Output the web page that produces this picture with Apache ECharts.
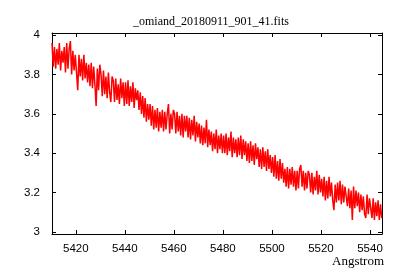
<!DOCTYPE html>
<html>
<head>
<meta charset="utf-8">
<script src="https://cdn.jsdelivr.net/npm/echarts@6/dist/echarts.min.js"></script>
<style>html,body{margin:0;padding:0;background:#fff}#c{width:400px;height:280px}</style>
</head>
<body>
<div id="c"></div>
<script>
const chartTitle = "_omiand_20180911_901_41.fits";
const xAxisName = "Angstrom";
const xStart = 5410.3;
const xStep = 0.5;
const xMin = 5410.3, xMax = 5544.9;
const yMin = 2.989, yMax = 4.011;
const xTicks = [5420, 5440, 5460, 5480, 5500, 5520, 5540];
const yTicks = [3, 3.2, 3.4, 3.6, 3.8, 4];
const flux = [
  3.96, 3.84, 3.94, 3.83, 3.93, 3.85, 3.96, 3.82, 3.92, 3.86,
  3.94, 3.81, 3.96, 3.83, 3.93, 3.97, 3.80, 3.92, 3.82, 3.90,
  3.89, 3.72, 3.90, 3.79, 3.88, 3.77, 3.90, 3.78, 3.86, 3.76,
  3.85, 3.74, 3.86, 3.73, 3.84, 3.75, 3.64, 3.83, 3.72, 3.85,
  3.80, 3.69, 3.82, 3.70, 3.79, 3.68, 3.81, 3.71, 3.66, 3.79,
  3.77, 3.66, 3.78, 3.67, 3.75, 3.65, 3.78, 3.68, 3.76, 3.64,
  3.76, 3.65, 3.77, 3.64, 3.74, 3.66, 3.76, 3.63, 3.73, 3.67,
  3.72, 3.62, 3.71, 3.60, 3.69, 3.58, 3.68, 3.56, 3.65, 3.57,
  3.65, 3.54, 3.64, 3.52, 3.62, 3.53, 3.63, 3.51, 3.61, 3.53,
  3.62, 3.51, 3.61, 3.52, 3.60, 3.65, 3.50, 3.60, 3.52, 3.62,
  3.60, 3.50, 3.61, 3.51, 3.59, 3.49, 3.60, 3.48, 3.59, 3.51,
  3.59, 3.48, 3.58, 3.47, 3.57, 3.49, 3.59, 3.46, 3.56, 3.48,
  3.55, 3.45, 3.54, 3.44, 3.53, 3.45, 3.57, 3.43, 3.52, 3.44,
  3.51, 3.41, 3.50, 3.42, 3.52, 3.40, 3.49, 3.42, 3.50, 3.40,
  3.49, 3.40, 3.50, 3.39, 3.48, 3.41, 3.51, 3.38, 3.48, 3.40,
  3.47, 3.38, 3.48, 3.39, 3.49, 3.37, 3.47, 3.39, 3.46, 3.36,
  3.45, 3.35, 3.46, 3.36, 3.44, 3.34, 3.45, 3.37, 3.43, 3.33,
  3.42, 3.32, 3.43, 3.33, 3.41, 3.31, 3.42, 3.32, 3.39, 3.30,
  3.38, 3.28, 3.39, 3.27, 3.36, 3.26, 3.37, 3.27, 3.35, 3.25,
  3.32, 3.23, 3.33, 3.22, 3.32, 3.24, 3.33, 3.23, 3.31, 3.21,
  3.31, 3.22, 3.32, 3.34, 3.23, 3.31, 3.21, 3.30, 3.22, 3.31,
  3.29, 3.20, 3.30, 3.19, 3.28, 3.21, 3.31, 3.19, 3.29, 3.20,
  3.27, 3.18, 3.28, 3.16, 3.26, 3.17, 3.28, 3.18, 3.25, 3.16,
  3.11, 3.24, 3.15, 3.25, 3.16, 3.26, 3.14, 3.24, 3.15, 3.23,
  3.23, 3.13, 3.22, 3.12, 3.21, 3.06, 3.23, 3.12, 3.21, 3.13,
  3.20, 3.10, 3.19, 3.11, 3.18, 3.09, 3.07, 3.19, 3.09, 3.17,
  3.16, 3.07, 3.17, 3.06, 3.15, 3.08, 3.16, 3.06, 3.14, 3.07
];
const points = flux.map((v, i) => [xStart + i * xStep, v]);

const labelFont = {color: '#000', fontFamily: 'Liberation Sans', fontSize: 11.5};
function xAx(pos, showLabel) {
  return {
    type: 'value', position: pos, min: xMin, max: xMax,
    axisLine: {show: true, onZero: false, lineStyle: {color: '#000', width: 1}},
    axisTick: {show: true, inside: true, length: 4, customValues: xTicks, lineStyle: {color: '#000'}},
    axisLabel: Object.assign({show: showLabel, customValues: xTicks, margin: 9,
      formatter: v => String(v)}, labelFont),
    splitLine: {show: false}
  };
}
function yAx(pos, showLabel) {
  return {
    type: 'value', position: pos, min: yMin, max: yMax,
    axisLine: {show: true, onZero: false, lineStyle: {color: '#000', width: 1}},
    axisTick: {show: true, inside: true, length: 4, customValues: yTicks, lineStyle: {color: '#000'}},
    axisLabel: Object.assign({show: showLabel, customValues: yTicks, margin: 12,
      formatter: v => String(v)}, labelFont),
    splitLine: {show: false}
  };
}

const chart = echarts.init(document.getElementById('c'), null, {renderer: 'canvas'});
chart.setOption({
  animation: false,
  backgroundColor: '#fff',
  title: {
    text: chartTitle, left: 128, top: 11,
    textStyle: {fontFamily: 'Liberation Serif', fontSize: 12, fontWeight: 'normal', color: '#000'}
  },
  graphic: [{
    type: 'text', left: 332, top: 255,
    style: {text: xAxisName, fontFamily: 'Liberation Serif', fontSize: 13, fill: '#000'}
  }],
  grid: {left: 52, right: 18, top: 33, bottom: 46},
  xAxis: [xAx('bottom', true), xAx('top', false)],
  yAxis: [yAx('left', true), yAx('right', false)],
  series: [{
    type: 'line', data: points, xAxisIndex: 0, yAxisIndex: 0,
    showSymbol: false, symbol: 'none',
    lineStyle: {color: '#ff0000', width: 1.5}
  }]
});
</script>
</body>
</html>
